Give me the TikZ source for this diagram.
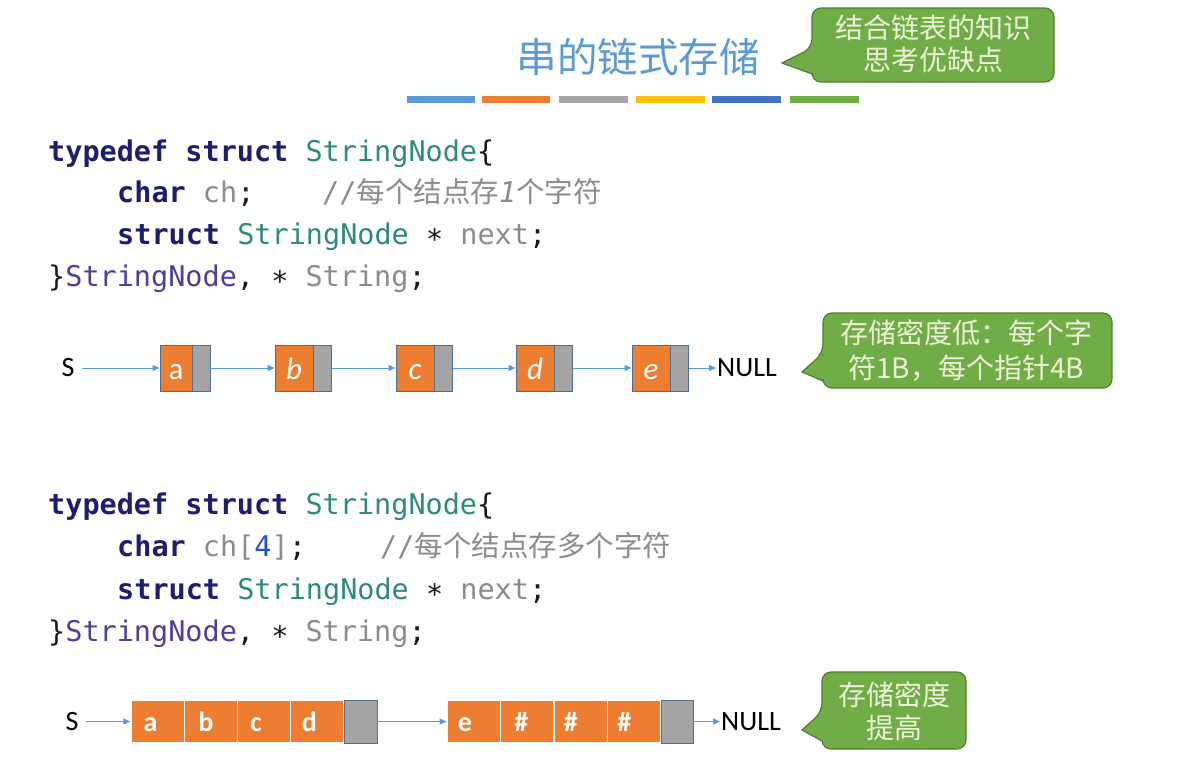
\documentclass[tikz,border=0pt]{standalone}
\usepackage{fontspec}
\setmainfont{Carlito}
\setmonofont{DejaVu Sans Mono}
\newfontfamily\cjk{Noto Sans CJK SC}
\usetikzlibrary{arrows.meta}
\definecolor{ttl}{HTML}{5B9BD5}
\definecolor{kw}{HTML}{1E1E6E}
\definecolor{ty}{HTML}{2E8A80}
\definecolor{idc}{HTML}{8C8C8C}
\definecolor{pu}{HTML}{523E98}
\definecolor{num}{HTML}{1F4FD8}
\definecolor{pn}{HTML}{1A1A1A}
\definecolor{org}{HTML}{ED7D31}
\definecolor{gry}{HTML}{A5A5A5}
\definecolor{bord}{HTML}{4F6F8F}
\definecolor{grn}{HTML}{70AD47}
\definecolor{grnd}{HTML}{507E32}
\definecolor{ctxt}{HTML}{EEF2D8}
\definecolor{arrc}{HTML}{5B9BD5}
\definecolor{barA}{HTML}{5B9BD5}
\definecolor{barB}{HTML}{ED7D31}
\definecolor{barC}{HTML}{A5A5A5}
\definecolor{barD}{HTML}{FFC000}
\definecolor{barE}{HTML}{4472C4}
\definecolor{barF}{HTML}{70AD47}
\newcommand\cjktext[1]{{\cjk\fontsize{28.5}{30}\selectfont #1}}
\newcommand\codeast{\raisebox{-5pt}{*}}
\begin{document}
\begin{tikzpicture}[x=1pt,y=-1pt,
  code/.style={anchor=base west, inner sep=0pt, font=\ttfamily\fontsize{28.5}{30}\selectfont, text=pn},
  callout/.style={fill=grn, draw=grnd, line width=1.2pt},
  ctext/.style={font=\cjk\fontsize{28}{32}\selectfont, text=ctxt, align=center, inner sep=0pt},
  onode/.style={draw=bord, line width=0.9pt, fill=org, minimum height=46pt, minimum width=38pt, inner sep=0pt},
  gnode/.style={draw=bord, line width=0.9pt, fill=gry, minimum height=46pt, minimum width=18pt, inner sep=0pt},
  otxt/.style={anchor=base, inner sep=0pt, text=white, font=\fontsize{31}{31}\selectfont\itshape},
  cell/.style={draw=white, line width=1.2pt, fill=org, minimum height=43pt, minimum width=53.25pt, inner sep=0pt},
  gcell/.style={draw=bord, line width=0.9pt, fill=gry, minimum height=43pt, minimum width=33pt, inner sep=0pt},
  celltxt/.style={anchor=base, text=white, font=\fontsize{28}{28}\selectfont\bfseries, inner sep=0pt},
  lbl/.style={font=\fontsize{28}{28}\selectfont, text=black, inner sep=1pt},
  arr/.style={draw=arrc, line width=1pt, -{Triangle[length=7pt,width=6pt]}}
]
\useasboundingbox (0,0) rectangle (1185,779);
\fill[white] (0,0) rectangle (1185,779);

% title
\node[font=\cjk\fontsize{40.5}{42}\selectfont, text=ttl, inner sep=0pt] (title) at (638,57) {串的链式存储};

% colour bars
\fill[barA] (407,96) rectangle (475,103);
\fill[barB] (482,96) rectangle (550,103);
\fill[barC] (559,96) rectangle (628,103);
\fill[barD] (636,96) rectangle (705,103);
\fill[barE] (712,96) rectangle (781,103);
\fill[barF] (790,96) rectangle (859,103);

% callout 1
\draw[callout] (782,63) -- (812,74) [rounded corners=9pt] -- (812,82) -- (1054,82) -- (1054,8) -- (812,8) -- (812,48) [sharp corners] -- cycle;
\node[ctext] (note1) at (933,44) {结合链表的知识\\思考优缺点};

% code block 1
\node[code] (l11) at (48,161) {{\bfseries\color{kw}typedef struct} {\color{ty}StringNode}\{};
\node[code] (l12) at (117,202) {{\bfseries\color{kw}char} {\color{idc}ch};};
\node[code, text=idc] (l12c) at (322,202) {//\cjktext{每个结点存}{\itshape 1}\cjktext{个字符}};
\node[code] (l13) at (117,244) {{\bfseries\color{kw}struct} {\color{ty}StringNode} \codeast\ {\color{idc}next};};
\node[code] (l14) at (48,286) {\}{\color{pu}StringNode}, \codeast\ {\color{idc}String};};

% list 1
\node[lbl] (s1) at (68,368) {S};
\node[onode, minimum width=32pt] (na) at (176,368) {};
\node[gnode] (nap) at (201,368) {};
\node[onode] (nb) at (294,368) {};
\node[gnode] (nbp) at (322,368) {};
\node[onode] (nc) at (415,368) {};
\node[gnode] (ncp) at (443.5,368) {};
\node[onode] (nd) at (535,368) {};
\node[gnode] (ndp) at (563.5,368) {};
\node[onode] (ne) at (651,368) {};
\node[gnode] (nep) at (679.5,368) {};
\node[otxt, font=\fontsize{31}{31}\selectfont] (ta) at (176,379) {a};
\node[otxt] (tb) at (294,379) {b};
\node[otxt] (tc) at (415,379) {c};
\node[otxt] (td) at (535,379) {d};
\node[otxt] (te) at (651,379) {e};
\node[lbl, anchor=west] (null1) at (716,368) {NULL};
\draw[arr, shorten <=6pt] (s1) -- (na);
\draw[arr] (nap) -- (nb);
\draw[arr] (nbp) -- (nc);
\draw[arr] (ncp) -- (nd);
\draw[arr] (ndp) -- (ne);
\draw[arr] (nep) -- (null1);

% callout 2
\draw[callout] (802,372) -- (823,381) [rounded corners=9pt] -- (823,388) -- (1112,388) -- (1112,313) -- (823,313) -- (823,353) [sharp corners] -- cycle;
\node[ctext, font=\cjk\fontsize{28}{35}\selectfont] (note2) at (966,351) {存储密度低：每个字\\符1B，每个指针4B};

% code block 2
\node[code] (l21) at (48,514) {{\bfseries\color{kw}typedef struct} {\color{ty}StringNode}\{};
\node[code] (l22) at (117,556) {{\bfseries\color{kw}char} {\color{idc}ch[}{\color{num}4}{\color{idc}]};};
\node[code, text=idc] (l22c) at (380,556) {//\cjktext{每个结点存多个字符}};
\node[code] (l23) at (117,599) {{\bfseries\color{kw}struct} {\color{ty}StringNode} \codeast\ {\color{idc}next};};
\node[code] (l24) at (48,641) {\}{\color{pu}StringNode}, \codeast\ {\color{idc}String};};

% list 2
\node[lbl] (s2) at (72,721.5) {S};
\node[cell] (c1) at (157.6,721.5) {};
\node[cell] (c2) at (210.9,721.5) {};
\node[cell] (c3) at (264.1,721.5) {};
\node[cell] (c4) at (317.4,721.5) {};
\node[gcell] (c5) at (360.5,721.5) {};
\node[cell] (d1) at (473.8,721.5) {};
\node[cell] (d2) at (527.3,721.5) {};
\node[cell] (d3) at (580.8,721.5) {};
\node[cell] (d4) at (634.3,721.5) {};
\node[gcell, minimum width=32pt] (d5) at (677,721.5) {};
\node[celltxt] (t1) at (150.6,731.5) {a};
\node[celltxt] (t2) at (205.9,731.5) {b};
\node[celltxt] (t3) at (256.1,731.5) {c};
\node[celltxt] (t4) at (309.4,731.5) {d};
\node[celltxt] (t5) at (464.8,731.5) {e};
\node[celltxt] (t6) at (521.3,731.5) {\#};
\node[celltxt] (t7) at (570.8,731.5) {\#};
\node[celltxt] (t8) at (624.3,731.5) {\#};
\node[lbl, anchor=west] (null2) at (720,721.5) {NULL};
\draw[arr, shorten <=6pt] (s2) -- (c1);
\draw[arr] (c5) -- (d1);
\draw[arr] (d5) -- (null2);

% callout 3
\draw[callout] (802,730) -- (822,741) [rounded corners=9pt] -- (822,749) -- (966,749) -- (966,672) -- (822,672) -- (822,712) [sharp corners] -- cycle;
\node[ctext, font=\cjk\fontsize{28}{33}\selectfont] (note3) at (894,711.5) {存储密度\\提高};
\end{tikzpicture}
\end{document}
